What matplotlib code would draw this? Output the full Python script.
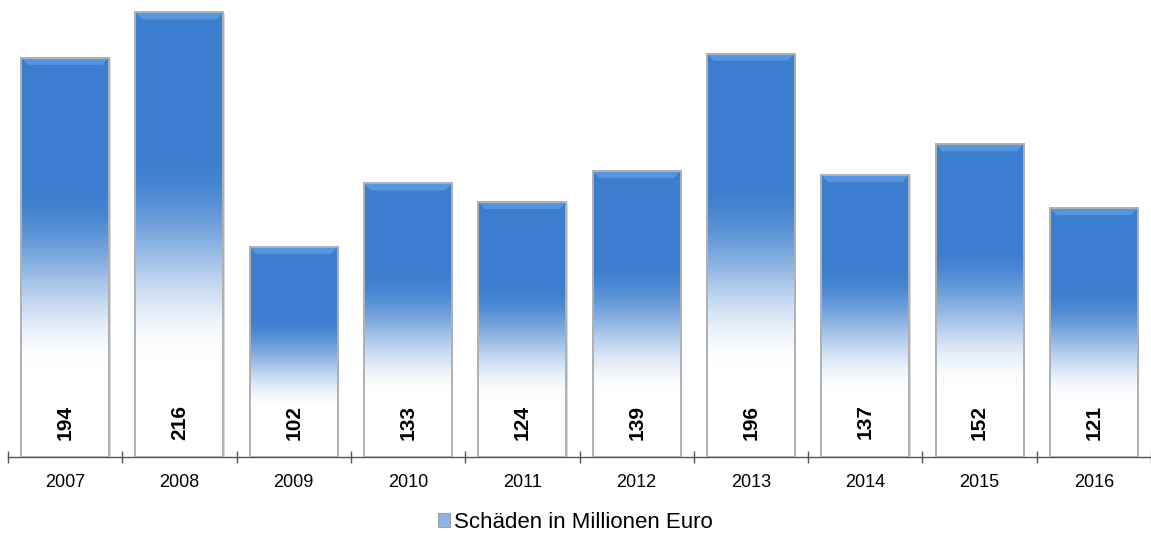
import numpy as np
import matplotlib.pyplot as plt
from matplotlib.patches import Rectangle, Polygon, Patch
from matplotlib.colors import LinearSegmentedColormap

years = ["2007", "2008", "2009", "2010", "2011", "2012", "2013", "2014", "2015", "2016"]
schaeden = [194, 216, 102, 133, 124, 139, 196, 137, 152, 121]
series_name = "Schäden in Millionen Euro"

plt.rcParams['font.family'] = ['Liberation Sans', 'DejaVu Sans']

fig = plt.figure(figsize=(11.51, 5.34), dpi=100)
ax = fig.add_axes([8 / 1151, 77 / 534, 1143 / 1151, 457 / 534])

# vertical fade: blue at the top of each bar, white towards the base (smooth ramp)
t = np.linspace(0, 1, 256)
s = np.clip((t - 0.22) / (0.68 - 0.22), 0, 1)
s = s * s * (3 - 2 * s)
blue = np.array([0.235, 0.494, 0.812])
rgb = (1 - s)[:, None] * np.ones(3) + s[:, None] * blue
grad = rgb.reshape(-1, 1, 3)

width = 0.77
x = np.arange(len(years))
for xi, v in zip(x, schaeden):
    x0, x1 = xi - width / 2, xi + width / 2
    # soft shadow
    ax.add_patch(Rectangle((x0 + 0.012, -0.6), width, v, facecolor="#d9d9d9",
                           edgecolor="none", zorder=1))
    rect = Rectangle((x0, 0), width, v, facecolor="none", edgecolor="#b0b0b0",
                     linewidth=1.4, zorder=3)
    ax.add_patch(rect)
    im = ax.imshow(grad, extent=(x0, x1, 0, v), origin="lower",
                   aspect="auto", zorder=2, interpolation="bilinear")
    im.set_clip_path(rect)
    # bevel on the top edge
    bev = 3.5
    dx = 0.06
    ax.add_patch(Polygon([(x0, v), (x1, v), (x1 - dx, v - bev), (x0 + dx, v - bev)],
                         closed=True, facecolor="#5a95db", edgecolor="none", zorder=2.5))
    ax.text(xi, 17, str(v), rotation=90, ha="center", va="center",
            fontsize=15, fontweight="bold", color="black", zorder=4)

ax.set_xlim(-0.5, 9.5 - 4 / 114.7)
ax.set_ylim(0, 222)

for sp in ["top", "right", "left"]:
    ax.spines[sp].set_visible(False)
ax.spines["bottom"].set_color("#555555")
ax.spines["bottom"].set_linewidth(1.0)
ax.set_yticks([])

ax.set_xticks(x)
ax.set_xticklabels(years, fontsize=13)
ax.tick_params(axis="x", which="major", length=0, pad=12)
ax.set_xticks(np.arange(-0.5, 10, 1), minor=True)
ax.tick_params(axis="x", which="minor", length=9, direction="inout",
               color="#555555", width=1.0)

handle = Patch(facecolor="#8fb4e3", edgecolor="#a0a0a0", linewidth=0.8)
fig.legend([handle], [series_name], loc="lower center", bbox_to_anchor=(0.5, -0.035),
           frameon=False, fontsize=16, handlelength=0.55, handleheight=0.55,
           handletextpad=0.2)

fig.savefig("out.png", dpi=100)
